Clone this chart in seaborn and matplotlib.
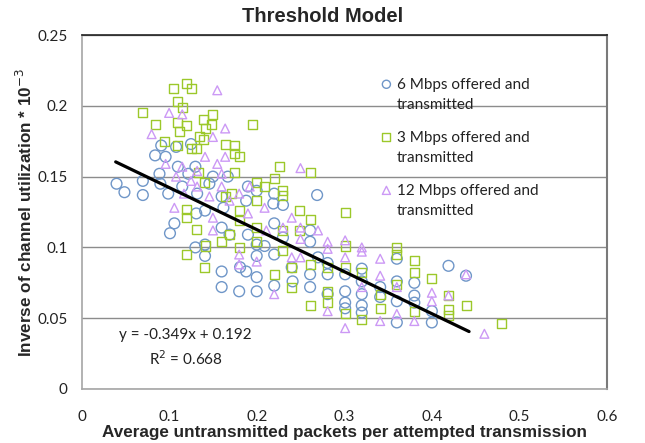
import pandas as pd
import numpy as np
import matplotlib
matplotlib.use('Agg')
import matplotlib.pyplot as plt
import seaborn as sns

# ── Data ─────────────────────────────────────────────────────────────────────
x_6mbps = [0.040, 0.049, 0.070, 0.070, 0.084, 0.091, 0.089, 0.090, 0.099, 0.101,
           0.106, 0.096, 0.108, 0.110, 0.115, 0.122, 0.125, 0.130, 0.132, 0.131,
           0.130, 0.141, 0.141, 0.141, 0.146, 0.150, 0.160, 0.162, 0.160, 0.160,
           0.160, 0.167, 0.169, 0.180, 0.181, 0.188, 0.190, 0.188, 0.190, 0.200,
           0.200, 0.200, 0.200, 0.200, 0.209, 0.219, 0.220, 0.220, 0.220, 0.220,
           0.230, 0.230, 0.240, 0.241, 0.261, 0.261, 0.261, 0.261, 0.269, 0.270,
           0.281, 0.281, 0.281, 0.301, 0.301, 0.301, 0.301, 0.320, 0.320, 0.320,
           0.320, 0.320, 0.341, 0.341, 0.360, 0.360, 0.360, 0.360, 0.380, 0.380,
           0.380, 0.400, 0.400, 0.419, 0.439]
y_6mbps = [0.145, 0.139, 0.137, 0.147, 0.165, 0.172, 0.152, 0.145, 0.138, 0.110,
           0.117, 0.164, 0.171, 0.157, 0.143, 0.152, 0.173, 0.157, 0.138, 0.124,
           0.100, 0.094, 0.102, 0.126, 0.145, 0.150, 0.136, 0.128, 0.114, 0.083,
           0.072, 0.150, 0.109, 0.069, 0.086, 0.083, 0.143, 0.133, 0.109, 0.069,
           0.079, 0.094, 0.102, 0.140, 0.101, 0.131, 0.138, 0.117, 0.095, 0.073,
           0.130, 0.107, 0.086, 0.076, 0.112, 0.104, 0.081, 0.072, 0.137, 0.093,
           0.089, 0.081, 0.067, 0.081, 0.069, 0.061, 0.057, 0.085, 0.076, 0.067,
           0.059, 0.054, 0.072, 0.065, 0.092, 0.076, 0.062, 0.047, 0.075, 0.066,
           0.061, 0.047, 0.055, 0.087, 0.080]

x_3mbps = [0.070, 0.084, 0.095, 0.105, 0.110, 0.115, 0.120, 0.125, 0.110, 0.112,
           0.120, 0.110, 0.126, 0.131, 0.139, 0.141, 0.149, 0.148, 0.135, 0.139,
           0.120, 0.120, 0.120, 0.131, 0.141, 0.140, 0.140, 0.134, 0.164, 0.175,
           0.175, 0.180, 0.175, 0.164, 0.171, 0.180, 0.180, 0.180, 0.160, 0.169,
           0.195, 0.200, 0.200, 0.200, 0.200, 0.209, 0.220, 0.226, 0.230, 0.230,
           0.230, 0.230, 0.220, 0.240, 0.240, 0.249, 0.249, 0.261, 0.261, 0.261,
           0.261, 0.281, 0.281, 0.281, 0.301, 0.301, 0.301, 0.301, 0.320, 0.320,
           0.341, 0.341, 0.360, 0.360, 0.360, 0.380, 0.380, 0.380, 0.400, 0.419,
           0.419, 0.419, 0.439, 0.480]
y_3mbps = [0.195, 0.187, 0.175, 0.212, 0.203, 0.199, 0.216, 0.212, 0.188, 0.182,
           0.186, 0.172, 0.170, 0.170, 0.190, 0.184, 0.194, 0.187, 0.178, 0.176,
           0.127, 0.121, 0.095, 0.113, 0.101, 0.086, 0.146, 0.153, 0.173, 0.172,
           0.166, 0.164, 0.153, 0.136, 0.138, 0.126, 0.119, 0.100, 0.104, 0.109,
           0.187, 0.146, 0.133, 0.114, 0.104, 0.143, 0.149, 0.157, 0.140, 0.137,
           0.112, 0.098, 0.081, 0.086, 0.072, 0.126, 0.112, 0.153, 0.120, 0.088,
           0.059, 0.086, 0.069, 0.061, 0.125, 0.101, 0.086, 0.053, 0.082, 0.049,
           0.067, 0.057, 0.100, 0.095, 0.074, 0.091, 0.082, 0.055, 0.078, 0.066,
           0.056, 0.052, 0.059, 0.046]

x_12mbps = [0.080, 0.100, 0.115, 0.155, 0.164, 0.096, 0.106, 0.115, 0.125, 0.132,
            0.141, 0.150, 0.155, 0.164, 0.160, 0.146, 0.150, 0.150, 0.169, 0.180,
            0.180, 0.180, 0.190, 0.200, 0.209, 0.220, 0.230, 0.240, 0.240, 0.250,
            0.250, 0.250, 0.250, 0.270, 0.281, 0.281, 0.281, 0.301, 0.301, 0.301,
            0.320, 0.320, 0.320, 0.341, 0.341, 0.341, 0.360, 0.360, 0.380, 0.400,
            0.400, 0.419, 0.439, 0.460, 0.192, 0.160, 0.132, 0.108, 0.117, 0.211]
y_12mbps = [0.180, 0.195, 0.194, 0.211, 0.184, 0.159, 0.128, 0.157, 0.147, 0.143,
            0.164, 0.178, 0.159, 0.164, 0.152, 0.136, 0.121, 0.112, 0.133, 0.138,
            0.095, 0.088, 0.124, 0.090, 0.128, 0.067, 0.114, 0.121, 0.093, 0.156,
            0.114, 0.106, 0.093, 0.112, 0.104, 0.099, 0.055, 0.105, 0.093, 0.043,
            0.100, 0.097, 0.072, 0.092, 0.080, 0.048, 0.072, 0.053, 0.048, 0.068,
            0.062, 0.066, 0.081, 0.039, 0.143, 0.143, 0.154, 0.150, 0.138, 0.112]

# trendline as drawn in the picture (start/end x, slope, intercept)
trend_x = [0.039, 0.4425]
trend_slope = -0.297
trend_intercept = 0.172

series_labels = ['6 Mbps offered and\ntransmitted',
                 '3 Mbps offered and\ntransmitted',
                 '12 Mbps offered and\ntransmitted']
eq_text = 'y = -0.349x + 0.192\nR$^2$ = 0.668'

x_ticks = [0, 0.1, 0.2, 0.3, 0.4, 0.5, 0.6]
x_ticklabels = ['0', '0.1', '0.2', '0.3', '0.4', '0.5', '0.6']
y_ticks = [0, 0.05, 0.1, 0.15, 0.2, 0.25]
y_ticklabels = ['0', '0.05', '0.1', '0.15', '0.2', '0.25']

# ── Figure ───────────────────────────────────────────────────────────────────
sns.set_style('white')
plt.rcParams['font.family'] = ['Lato', 'DejaVu Sans']

fig = plt.figure(figsize=(6.45, 4.43), dpi=100)
ax = fig.add_axes([0.1264, 0.1219, 0.8147, 0.799])

colors = ['#6f96c8', '#9cc82a', '#cc99f5']
markers = ['o', 's', '^']
sizes = [60, 42, 40]
xs = [x_6mbps, x_3mbps, x_12mbps]
ys = [y_6mbps, y_3mbps, y_12mbps]

for xv, yv, c, m, s, lab in zip(xs, ys, colors, markers, sizes, series_labels):
    sns.scatterplot(x=xv, y=yv, ax=ax, marker=m, s=s, facecolor='none',
                    edgecolor=c, linewidth=1.0, label=lab, zorder=3)

tx = np.array(trend_x)
sns.lineplot(x=tx, y=trend_slope * tx + trend_intercept, ax=ax, color='black',
             linewidth=2.3, zorder=4, legend=False)

ax.set_xlim(0, 0.6)
ax.set_ylim(0, 0.25)
ax.set_xticks(x_ticks)
ax.set_xticklabels(x_ticklabels)
ax.set_yticks(y_ticks)
ax.set_yticklabels(y_ticklabels)
ax.tick_params(axis='both', labelsize=11, colors='#a6a6a6', direction='out',
               length=4, width=1)
ax.tick_params(axis='x', pad=11)
ax.tick_params(axis='y', pad=6)
for t in ax.get_xticklabels() + ax.get_yticklabels():
    t.set_color('#222222')

ax.yaxis.grid(True, color='#8c8c8c', linewidth=1)
ax.set_axisbelow(True)
for side in ['left', 'bottom']:
    ax.spines[side].set_color('#a6a6a6')
    ax.spines[side].set_linewidth(1.2)
ax.spines['right'].set_color('#7a7a7a')
ax.spines['right'].set_linewidth(1.5)
ax.spines['top'].set_color('#222222')
ax.spines['top'].set_linewidth(1.2)

ax.set_xlabel('Average untransmitted packets per attempted transmission',
              fontsize=12.3, fontweight='bold', family='Liberation Sans', labelpad=1)
ax.set_ylabel('Inverse of channel utilization * 10$^{-3}$',
              fontsize=12.3, fontweight='bold', family='Liberation Sans', labelpad=2)
fig.suptitle('Threshold Model', x=0.5, y=1 - 16 / 443, va='center',
             fontsize=14.5, fontweight='bold', family='Liberation Sans')

ax.text(0.119, 0.029, eq_text, fontsize=11, ha='center', va='center',
        linespacing=1.5, color='#222222')

leg = ax.legend(loc='upper left', bbox_to_anchor=(0.554, 0.895), frameon=False,
                fontsize=11, handletextpad=0.2, handlelength=1.0,
                labelspacing=1.25, borderaxespad=0)
for t in leg.get_texts():
    t.set_linespacing(1.54)
    t.set_color('#222222')
# put each legend marker on the first line of its label
for h in leg.legend_handles:
    h.set_sizes([34])
    h.set_offsets(h.get_offsets() + np.array([0, 9.0]))

fig.savefig('out.png', dpi=100)
